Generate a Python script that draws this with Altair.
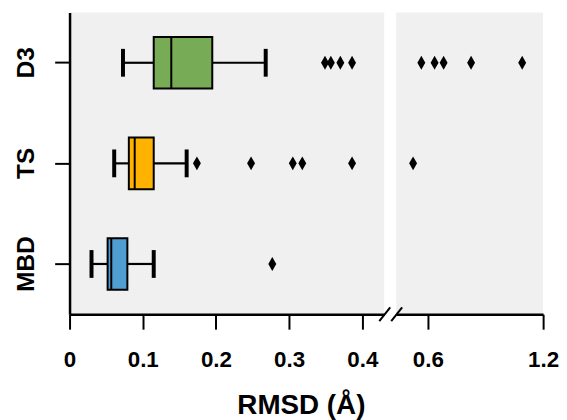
import altair as alt
import pandas as pd

cats = ["D3", "TS", "MBD"]
whisker_lo = [0.073, 0.061, 0.030]
q1 = [0.115, 0.081, 0.052]
median = [0.139, 0.089, 0.057]
q3 = [0.195, 0.115, 0.079]
whisker_hi = [0.268, 0.160, 0.115]
box_colors = ["#78ab56", "#ffb300", "#4f9dd1"]

d3_out = [0.349, 0.357, 0.370, 0.386, 0.566, 0.635, 0.682, 0.825, 1.091]
ts_out = [0.174, 0.248, 0.305, 0.318, 0.386, 0.523]
mbd_out = [0.277]

left_ticks = [0, 0.1, 0.2, 0.3, 0.4]
right_ticks = [0.6, 1.2]
left_domain = [0, 0.43]
right_domain = [0.435, 1.2]

FONT = "Liberation Sans"
W_LEFT, W_RIGHT, H = 317, 148, 304
BOX_H = 52
diamond = "M0,-1L0.57,0L0,1L-0.57,0Z"

stats = pd.DataFrame({
    "cat": cats, "lo": whisker_lo, "q1": q1, "med": median,
    "q3": q3, "hi": whisker_hi, "color": box_colors,
})
out_rows = []
for c, vals in zip(cats, [d3_out, ts_out, mbd_out]):
    for v in vals:
        out_rows.append({"cat": c, "v": v})
outliers = pd.DataFrame(out_rows)

y_enc = alt.Y("cat:N", sort=cats,
              scale=alt.Scale(domain=cats, paddingInner=0, paddingOuter=0))


def panel(domain, ticks, width, left):
    xs = alt.Scale(domain=domain, nice=False, zero=False)
    if left:
        xaxis = alt.Axis(values=ticks, format=".1~f", title="RMSD (Å)", labelFlush=False,
                         titleX=233, titleY=100, titleAnchor="middle",
                         titleAlign="center", titleBaseline="alphabetic",
                         titleFont=FONT, titleFontSize=28, titleFontWeight="bold",
                         titleColor="black")
        yenc = y_enc.axis(alt.Axis(title=None, labelAngle=270, labelAlign="center",
                                   labelBaseline="alphabetic", labelPadding=21,
                                   labelFontSize=24.5, tickSize=15))
    else:
        xaxis = alt.Axis(values=ticks, format=".1~f", title=None, labelFlush=False)
        yenc = y_enc.axis(None)

    base_out = outliers[(outliers.v >= domain[0]) & (outliers.v <= domain[1])]
    pts = alt.Chart(base_out).mark_point(
        shape=diamond, size=196, filled=True, color="black", opacity=1
    ).encode(x=alt.X("v:Q", scale=xs, axis=xaxis), y=yenc)

    if left:
        whisk = alt.Chart(stats).transform_fold(["lo", "hi"], as_=["k", "end"]).transform_calculate(
            start="datum.k == 'lo' ? datum.q1 : datum.q3"
        ).mark_rule(color="black", strokeWidth=2.2).encode(
            x=alt.X("end:Q", scale=xs), x2="start:Q", y=yenc)
        caps = alt.Chart(stats).transform_fold(["lo", "hi"], as_=["k", "end"]).mark_tick(
            color="black", thickness=4, size=28, orient="vertical", opacity=1
        ).encode(x=alt.X("end:Q", scale=xs), y=yenc)
        boxes = alt.Chart(stats).mark_bar(size=BOX_H, stroke="black", strokeWidth=2,
                                          opacity=1).encode(
            x=alt.X("q1:Q", scale=xs), x2="q3:Q", y=yenc,
            color=alt.Color("color:N", scale=None))
        meds = alt.Chart(stats).mark_tick(color="black", thickness=2, size=BOX_H,
                                          orient="vertical", opacity=1).encode(
            x=alt.X("med:Q", scale=xs), y=yenc)
        layers = [whisk, caps, boxes, meds, pts]
    else:
        one = pd.DataFrame({"a": [0]})
        s1 = alt.Chart(one).mark_rule(color="black", strokeWidth=2).encode(
            x=alt.value(-17), x2=alt.value(-6), y=alt.value(311), y2=alt.value(297))
        s2 = alt.Chart(one).mark_rule(color="black", strokeWidth=2).encode(
            x=alt.value(-5), x2=alt.value(6), y=alt.value(311), y2=alt.value(297))
        layers = [pts, s1, s2]
    return alt.layer(*layers).properties(width=width, height=H)


left = panel(left_domain, left_ticks, W_LEFT, True)
right = panel(right_domain, right_ticks, W_RIGHT, False)

chart = alt.hconcat(left, right, spacing=12, bounds="flush").properties(
    padding={"left": 6, "top": 3, "right": 0, "bottom": 0}
).configure_view(fill="#f0f0f0", strokeWidth=0).configure_axis(
    labelFont=FONT, labelFontWeight="bold", labelFontSize=22.5, labelColor="black",
    labelPadding=20, tickColor="black", tickSize=15, tickWidth=2,
    domainColor="black", domainWidth=2.5, grid=False,
)

chart.save("out.html", embed_options={"renderer": "svg", "actions": False})
